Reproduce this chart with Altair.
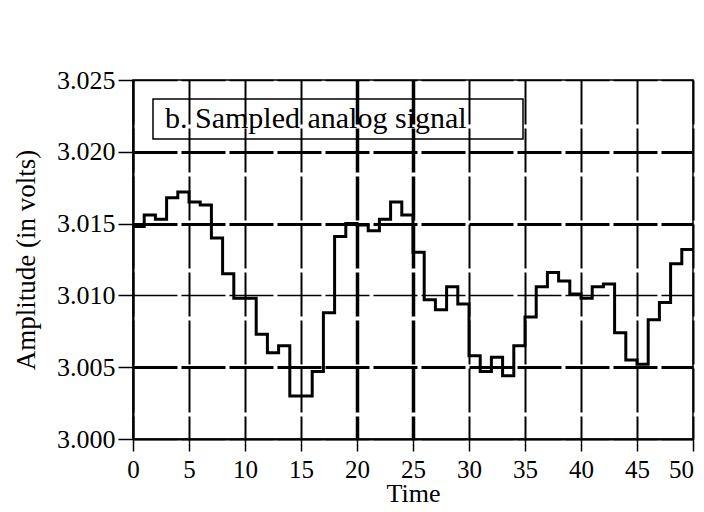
import altair as alt
import pandas as pd

# sample index (time) and held sample amplitude (volts)
times = list(range(51))
amplitude = [3.0148, 3.0156, 3.0153, 3.0168, 3.0172, 3.0165, 3.0163, 3.0140, 3.0115, 3.0098,
             3.0098, 3.0073, 3.0060, 3.0065, 3.0030, 3.0030, 3.0047, 3.0088, 3.0141, 3.0150,
             3.0149, 3.0145, 3.0153, 3.0165, 3.0156, 3.0130, 3.0097, 3.0090, 3.0106, 3.0094,
             3.0058, 3.0047, 3.0057, 3.0044, 3.0065, 3.0085, 3.0106, 3.0116, 3.0110, 3.0101,
             3.0098, 3.0106, 3.0108, 3.0074, 3.0055, 3.0052, 3.0083, 3.0095, 3.0122, 3.0132,
             3.0132]
series_name = "b. Sampled analog signal"
x_ticks = [0, 5, 10, 15, 20, 25, 30, 35, 40, 45, 50]
y_ticks = [3.000, 3.005, 3.010, 3.015, 3.020, 3.025]

df = pd.DataFrame({"t": times, "v": amplitude, "s": [series_name] * len(times)})

FONT = "Liberation Serif"

x_axis = alt.Axis(
    values=x_ticks, title="Time", format="d",
    labelFont=FONT, labelFontSize=25, labelColor="black", labelPadding=6,
    labelOffset={"condition": {"test": "datum.value == 50", "value": -12}, "value": 0},
    titleFont=FONT, titleFontSize=26, titleFontWeight="normal", titleColor="black",
    titleBaseline="alphabetic", titleY=62,
    tickSize=12, tickWidth=1.5, tickColor="black",
    domainColor="black", domainWidth=2,
    grid=True, gridColor="black", gridDash=[44, 4],
    gridWidth={"condition": {"test": "datum.value == 20 || datum.value == 25", "value": 3.5}, "value": 2},
    labelFlush=False,
)
y_axis = alt.Axis(
    values=y_ticks, title="Amplitude (in volts)", format=".3f",
    labelFont=FONT, labelFontSize=26, labelColor="black", labelPadding=3,
    titleFont=FONT, titleFontSize=27, titleFontWeight="normal", titleColor="black", titlePadding=16,
    tickSize=15, tickWidth=1.5, tickColor="black",
    domainColor="black", domainWidth=2,
    grid=True, gridColor="black", gridDash=[44, 4],
    gridWidth={"condition": {"test": "abs(datum.value - 3.01) < 0.0001 || datum.value < 3.0001 || datum.value > 3.0249", "value": 1.5}, "value": 3},
    labelFlush=False,
)

chart = alt.Chart(df).mark_line(interpolate="step-after", strokeWidth=3).encode(
    x=alt.X("t:Q", scale=alt.Scale(domain=[0, 50], nice=False), axis=x_axis),
    y=alt.Y("v:Q", scale=alt.Scale(domain=[3.0, 3.025], nice=False, zero=False), axis=y_axis),
    stroke=alt.Stroke("s:N", scale=alt.Scale(range=["black"]),
                      legend=alt.Legend(title=" ", titleOrient="right", titlePadding=51,
                                        orient="none", legendX=20, legendY=19,
                                        strokeColor="black", padding=5,
                                        labelFont=FONT, labelFontSize=30, labelColor="black",
                                        labelOffset={"expr": "-23"}, symbolType="circle", symbolSize=1,
                                        symbolOpacity=0, symbolStrokeWidth=0, labelLimit=600)),
).properties(
    width=560, height=359,
    autosize=alt.AutoSizeParams(type="none"),
    padding={"left": 125, "top": 72, "right": 3, "bottom": 65},
    background="white",
).configure_view(stroke="black", strokeWidth=1.5).configure_legend(strokeWidth=1.5)

chart.save("out.html", embed_options={"renderer": "svg", "actions": False})
